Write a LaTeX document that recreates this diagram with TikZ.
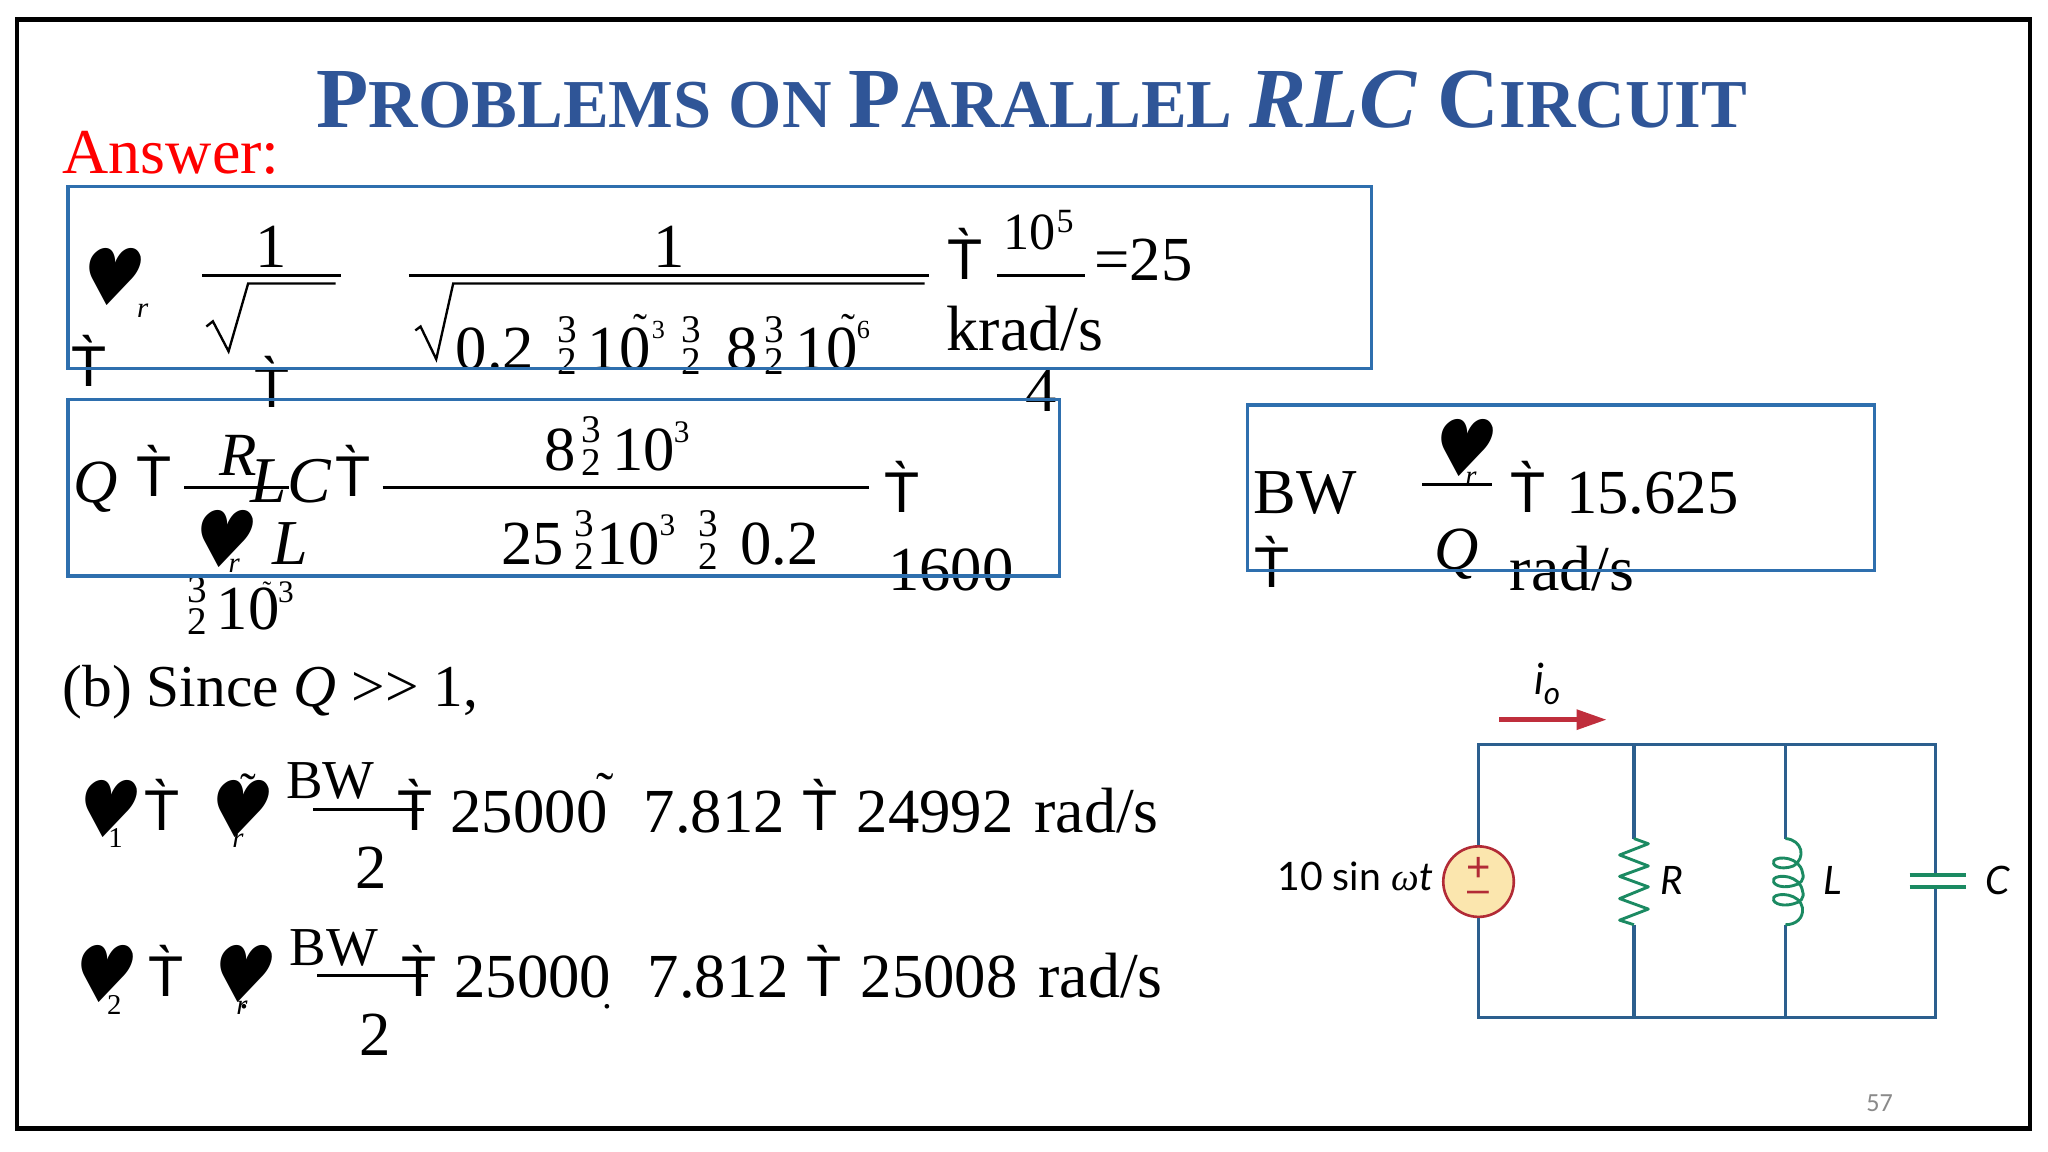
\documentclass[tikz,border=0pt]{standalone}
\usepackage{fontspec}
\usetikzlibrary{shapes.geometric,arrows.meta}
\setmainfont{Liberation Serif}
\newfontfamily\tsans{Liberation Sans}
\newfontfamily\hrtfont[FakeSlant=0.2,FakeStretch=0.9]{DejaVu Sans}
\newfontfamily\circf{Lato}
\newfontfamily\pagef{Carlito}
\definecolor{boxblue}{HTML}{2E6FAE}
\definecolor{titleblue}{HTML}{2F5597}
\definecolor{wire}{HTML}{2C5F8E}
\definecolor{compgreen}{HTML}{1B8A62}
\definecolor{srcred}{HTML}{B22B36}
\definecolor{srcfill}{HTML}{FBE6AE}
\definecolor{arrred}{HTML}{BF2E3C}
\definecolor{pagegray}{HTML}{8A8A8A}
\newcommand{\fs}[1]{\fontsize{#1}{#1}\selectfont}
\newcounter{tn}
\tikzset{
  lbl/.style={anchor=base west,inner sep=0pt,outer sep=0pt,font=\fs{48}},
  ctr/.style={anchor=base},
  sm/.style={font=\fs{24}},
  sub/.style={font=\fs{22}\itshape},
  stk/.style={anchor=base,font=\fs{30}},
  ital/.style={font=\fs{47}\itshape},
  answerbox/.style={draw=boxblue,line width=2.6pt},
  rule/.style={draw=black,line width=2.2pt},
  wireline/.style={draw=wire,line width=2.5pt},
  comp/.style={draw=compgreen,line width=2.2pt,line join=round},
  cir/.style={font=\circf\fs{30}},
  srcnode/.style={ellipse,draw=srcred,fill=srcfill,line width=2pt,minimum width=54pt,minimum height=54pt,inner sep=0pt},
}
\newcommand{\tx}[4][]{\stepcounter{tn}\node[lbl,#1] (t\arabic{tn}) at (#2,#3) {#4};}
\newcommand{\eqT}[2]{\tx[ctr,font=\tsans\fs{44}]{#1}{#2}{T\symbol{"0300}}}
\newcommand{\hrt}[2]{\stepcounter{tn}\node[inner sep=0pt,outer sep=0pt,font=\hrtfont\fs{60}] (t\arabic{tn}) at (#1,#2) {♥};}
\newcommand{\stack}[2]{\tx[stk]{#1}{#2-25}{3}\tx[stk]{#1}{#2}{2}}
\begin{document}
\begin{tikzpicture}[x=1pt,y=-1pt]
\useasboundingbox (0,0) rectangle (1568,882);
\fill[white] (0,0) rectangle (1568,882);
\draw[black,line width=3.2pt] (13,15) rectangle (1554,864);

% title
\tx[ctr,text=titleblue,font=\bfseries]{790}{98}{\fs{65.5}P\fs{52.5}ROBLEMS ON \fs{65.5}P\fs{52.5}ARALLEL \fs{65.5}\itshape RLC\upshape{} C\fs{52.5}IRCUIT}
\tx[text=red,font=\fs{49}]{48}{133}{Answer:}

% first equation
\hrt{82}{212}
\tx[sub]{105}{243}{r}
\eqT{68}{296}
\tx[ctr]{207.5}{205}{1}
\tx[ctr]{512}{205}{1}
\draw[rule] (155,211) -- (261,211);
\draw[rule] (313,211) -- (711,211);
\draw[black,line width=1.8pt] (158,250) -- (163,246) -- (175,269) -- (190,217) -- (257,217);
\draw[black,line width=1.8pt] (318,253) -- (322,250) -- (334,275) -- (347,217) -- (708,217);
\eqT{208}{312}
\tx{349}{283}{0.2}
\stack{434}{287}
\tx{450}{283}{10}
\tx[font=\fs{32}]{485}{262}{˜}
\tx[font=\fs{20}]{499}{259}{3}
\stack{529}{287}
\tx{556}{283}{8}
\stack{593}{287}
\tx{609}{283}{10}
\tx[font=\fs{32}]{644}{262}{˜}
\tx[font=\fs{20}]{656}{259}{6}
\eqT{739}{214}
\tx[font=\fs{40}]{768}{191}{10}
\tx[font=\fs{26}]{809}{178}{5}
\draw[rule] (763,211) -- (831,211);
\tx{838}{215}{=25}
\tx[font=\fs{49}]{725}{268}{krad/s}
\tx{785}{315}{4}

% Q equation
\tx[ital]{56}{385}{Q}
\eqT{118}{380}
\tx[ital]{168}{364}{R}
\draw[rule] (141,373) -- (221,373);
\tx[font=\fs{50}\itshape]{192}{385}{LC}
\eqT{270}{380}
\hrt{168}{413}
\tx[sub]{175}{438}{r}
\tx[font=\fs{49}\itshape]{209}{432}{L}
\stack{151}{486}
\tx{166}{482}{10}
\tx[font=\fs{20}]{201}{459}{˜}
\tx[sm]{213}{461}{3}
\draw[rule] (293,373) -- (665,373);
\tx{417}{360}{8}
\stack{453}{364}
\tx{469}{360}{10}
\tx[sm]{516}{339}{3}
\tx{384}{432}{25}
\stack{447}{436}
\tx{457}{432}{10}
\tx[sm]{505}{410}{3}
\stack{542}{436}
\tx{567}{432}{0.2}
\eqT{691}{392}
\tx{680}{452}{1600}

% bandwidth
\tx[font=\fs{49}]{960}{393}{BW}
\eqT{974}{450}
\hrt{1117}{343}
\tx[sub]{1122}{372}{r}
\draw[rule] (1089,371) -- (1142,371);
\tx[ital]{1098}{436}{Q}
\eqT{1170}{392}
\tx{1199}{393}{15.625}
\tx[font=\fs{49}]{1156}{452}{rad/s}

% answer boxes, over the text
\draw[answerbox] (52,143) rectangle (1050,282);
\draw[answerbox] (52,306) rectangle (811,441);
\draw[answerbox] (955,310) rectangle (1435,437);

% (b)
\tx[font=\fs{45.5}]{48}{541}{(b) Since \itshape Q\upshape{} {>}{>} 1,}

% omega 1
\hrt{79}{619}
\tx[font=\fs{22}]{83}{649}{1}
\eqT{124}{636}
\hrt{180}{619}
\tx[font=\fs{36}]{184}{617}{˜}
\tx[sub]{178}{649}{r}
\tx[font=\fs{42}]{219}{611}{BW}
\draw[rule] (240,620) -- (325,620);
\eqT{318}{636}
\tx{272}{680}{2}
\tx{345}{637}{25000}
\tx[font=\fs{40}]{457}{619}{˜}
\tx{493}{637}{7.812}
\eqT{628}{636}
\tx{656}{637}{24992}
\tx[font=\fs{49}]{792}{637}{rad/s}

% omega 2
\hrt{76}{746}
\tx[font=\fs{22}]{82}{777}{2}
\eqT{127}{763}
\hrt{182}{746}
\tx[sub]{181}{777}{r}
\tx[font=\fs{30}]{183}{772}{.}
\tx[font=\fs{42}]{222}{739}{BW}
\draw[rule] (243,747) -- (328,747);
\eqT{321}{763}
\tx{275}{808}{2}
\tx{348}{764}{25000}
\tx[font=\fs{30}]{461}{772}{.}
\tx{496}{764}{7.812}
\eqT{631}{763}
\tx{659}{764}{25008}
\tx[font=\fs{49}]{795}{764}{rad/s}

% circuit
\coordinate (tl) at (1132,570);
\coordinate (bl) at (1132,779);
\coordinate (tr) at (1482,570);
\coordinate (br) at (1482,779);
\coordinate (rt) at (1251,570);
\coordinate (rb) at (1251,779);
\coordinate (rt2) at (1251,642);
\coordinate (rb2) at (1251,708);
\coordinate (lt) at (1367,570);
\coordinate (lb) at (1367,779);
\coordinate (lt2) at (1367,642);
\coordinate (lb2) at (1367,708);
\coordinate (ct) at (1482,670);
\coordinate (cb) at (1482,679);
\coordinate (arra) at (1148,551);
\coordinate (arrb) at (1230,551);
\node[srcnode] (src) at (1132,675) {};
\draw[wireline] (src.north) -- (tl) -- (tr) -- (ct);
\draw[wireline] (src.south) -- (bl) -- (br) -- (cb);
\draw[wireline] (rt) -- (rt2);
\draw[wireline] (rb2) -- (rb);
\draw[wireline] (lt) -- (lt2);
\draw[wireline] (lb2) -- (lb);
\draw[comp] (rt2) -- (1262,646) -- (1240,654.6) -- (1262,663) -- (1240,671) -- (1262,679) -- (1240,688) -- (1262,696) -- (1240,704.5) -- (rb2);
\draw[comp] (lt2) .. controls (1380,643) and (1383,657) .. (1373,663)
  .. controls (1362,667) and (1356,662) .. (1358,659)
  .. controls (1361,655) and (1378,656) .. (1380,668)
  .. controls (1382,674) and (1378,677) .. (1373,678)
  .. controls (1362,681) and (1356,676) .. (1358,673)
  .. controls (1361,669) and (1378,670) .. (1380,682)
  .. controls (1382,688) and (1378,691) .. (1373,692)
  .. controls (1362,695) and (1356,690) .. (1358,687)
  .. controls (1361,683) and (1378,684) .. (1380,695)
  .. controls (1381,703) and (1375,708) .. (lb2);
\draw[compgreen,line width=3pt] (1462,670) -- (1505,670);
\draw[compgreen,line width=3pt] (1462,679) -- (1505,679);
\draw[arrred,line width=3.4pt,-{Triangle[length=23pt,width=15pt]}] (arra) -- (arrb);
\node[text=srcred,font=\tsans\fs{32},inner sep=0pt] (srcplus) at (1132,666) {+};
\node[text=srcred,font=\tsans\fs{30},inner sep=0pt] (srcminus) at (1132,687) {–};
\tx[font=\circf\itshape\fs{33}]{1175}{532}{i}
\tx[font=\circf\itshape\fs{24}]{1182}{539}{o}
\tx[cir]{978}{682}{10 sin\hspace{8pt}{\rmfamily\itshape ω}\itshape t}
\tx[cir]{1271}{685}{\itshape R}
\tx[cir]{1396}{685}{\itshape L}
\tx[cir]{1520}{685}{\itshape C}
\tx[text=pagegray,font=\pagef\fs{20}]{1429}{851}{57}
\end{tikzpicture}
\end{document}
